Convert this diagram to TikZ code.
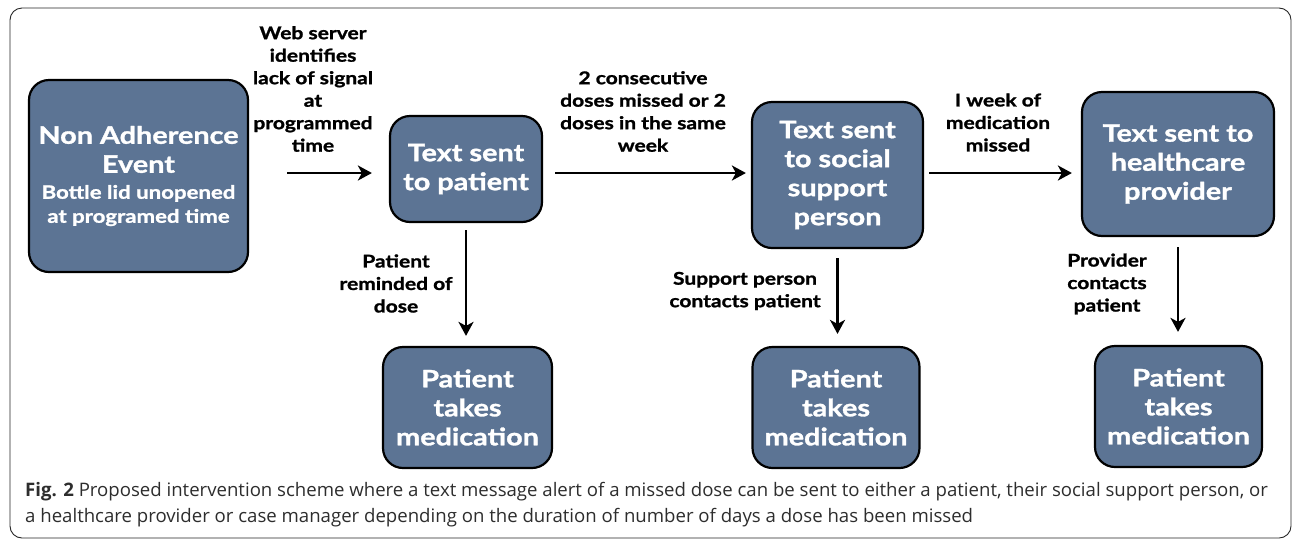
\documentclass[tikz,border=0pt]{standalone}
\usepackage{fontspec}
\setmainfont{Lato}
\newfontfamily\gill{Lato}[FakeStretch=1.2,FakeBold=1.3]
\newfontfamily\capfont{Open Sans}
\usetikzlibrary{arrows.meta,calc}
\definecolor{boxblue}{RGB}{92,116,148}
\definecolor{captext}{RGB}{45,45,45}
\begin{document}
\begin{tikzpicture}[x=1pt,y=-1pt,
  flowbox/.style={draw=black,line width=2.2pt,fill=boxblue,rounded corners=20pt,
    text=white,align=center,inner sep=0pt,font=\gill\bfseries\fontsize{24}{29}\selectfont},
  lbl/.style={align=center,inner sep=0pt,text=black,font=\gill\bfseries\fontsize{17.5}{22.5}\selectfont},
  arr/.style={line width=2.8pt,-{Stealth[length=14pt,width=15pt,inset=4pt]}}
]
\useasboundingbox (0,0) rectangle (1293,542);
\draw[line width=0.9pt,rounded corners=12pt,draw=black!85] (10,8) rectangle (1291,538);

\node[flowbox,minimum width=219pt,minimum height=192pt] (b1) at (138.5,176)
  {Non Adherence\\Event\\[-3pt]{\fontsize{18.5}{23}\selectfont Bottle lid unopened}\\[-5pt]{\fontsize{18.5}{23}\selectfont at programed time}};
\node[flowbox,minimum width=152pt,minimum height=106pt] (b2) at (466,169)
  {Text sent\\to patient};
\node[flowbox,minimum width=171pt,minimum height=146pt] (b3) at (837.5,175)
  {Text sent\\to social\\support\\person};
\node[flowbox,minimum width=192pt,minimum height=144pt] (b4) at (1178,164)
  {Text sent to\\healthcare\\provider};
\node[flowbox,minimum width=169pt,minimum height=121pt] (p1) at (467.5,407.5)
  {Patient\\takes\\medication};
\node[flowbox,minimum width=167pt,minimum height=121pt] (p2) at (836,407.5)
  {Patient\\takes\\medication};
\node[flowbox,minimum width=167pt,minimum height=121pt] (p3) at (1178.5,406.5)
  {Patient\\takes\\medication};

\coordinate (row) at (0,173);
\draw[arr,shorten <=38pt,shorten >=17pt] (b1.east |- row) -- (b2.west |- row);
\draw[arr,shorten <=12pt,shorten >=5pt] (b2.east |- row) -- (b3.west |- row);
\draw[arr,shorten <=5pt,shorten >=9pt] (b3.east |- row) -- (b4.west |- row);
\draw[arr,shorten <=7pt,shorten >=10pt] (b2.south) -- (b2.south |- p1.north);
\draw[arr,shorten <=9pt,shorten >=12pt] (b3.south) -- (b3.south |- p2.north);
\draw[arr,shorten <=10pt,shorten >=13pt] (b4.south) -- (b4.south |- p3.north);

\node[lbl] (l1) at (313,89) {Web server\\identifies\\lack of signal\\at\\programmed\\time};
\node[lbl] (l2) at (643,111.5) {2 consecutive\\doses missed or 2\\doses in the same\\week};
\node[lbl] (l3) at (998,122.5) {I week of\\medication\\missed};
\node[lbl] (l4) at (396,283.5) {Patient\\reminded of\\dose};
\node[lbl] (l5) at (745,291) {Support person\\contacts patient};
\node[lbl] (l6) at (1107,284) {Provider\\contacts\\patient};

\node[anchor=west,align=left,inner sep=0pt,text=captext,font=\capfont\fontsize{18.6}{26}\selectfont] (cap) at (25,505)
  {{\bfseries Fig. 2} Proposed intervention scheme where a text message alert of a missed dose can be sent to either a patient, their social support person, or\\a healthcare provider or case manager depending on the duration of number of days a dose has been missed};
\end{tikzpicture}
\end{document}
